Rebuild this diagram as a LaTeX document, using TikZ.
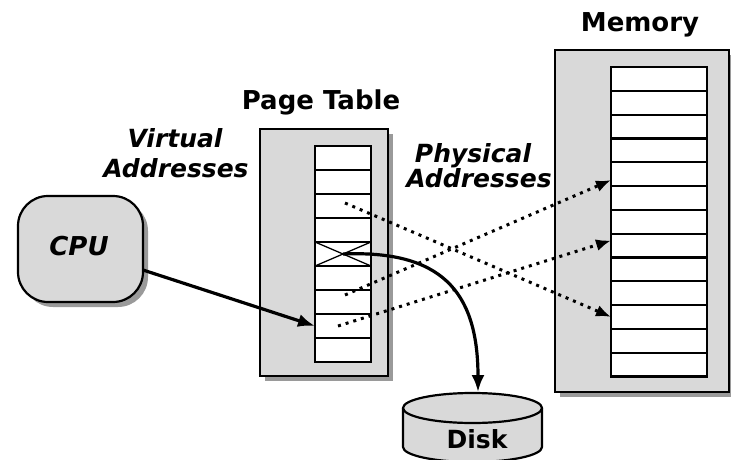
\documentclass[tikz,border=0pt]{standalone}
\usepackage{fontspec}
\setmainfont{DejaVu Sans}
\usetikzlibrary{arrows.meta,shadows}
\definecolor{boxgray}{HTML}{D9D9D9}
\definecolor{shadowgray}{HTML}{9A9A9A}

\begin{document}
\begin{tikzpicture}[x=1pt,y=-1pt,
  panel/.style={draw=black,line width=2.2pt,fill=boxgray,inner sep=0pt,outer sep=0pt,
    drop shadow={shadow xshift=5pt,shadow yshift=-5pt,fill=shadowgray,opacity=1}},
  slot/.style={draw=black,line width=2.2pt,fill=white,inner sep=0pt,outer sep=0pt},
  title/.style={font=\bfseries\fontsize{26}{28}\selectfont,anchor=base,inner sep=0pt},
  ititle/.style={font=\bfseries\itshape\fontsize{25}{27}\selectfont,anchor=base,inner sep=0pt},
  solidarrow/.style={line width=3.2pt,-{Latex[length=17pt,width=13pt]}},
  dotarrow/.style={line width=3pt,dash pattern=on 3pt off 5pt,-{Latex[length=15pt,width=12pt]}},
]
\useasboundingbox (0,0) rectangle (731,460);

% labels
\node[title] (memlabel) at (640,32) {Memory};
\node[title] (ptlabel) at (321,110) {Page Table};
\node[ititle] (virt1) at (175,147) {Virtual};
\node[ititle] (virt2) at (176,177) {Addresses};
\node[ititle] (phys1) at (473,162) {Physical};
\node[ititle] (phys2) at (479,187) {Addresses};

% CPU
\node[panel,rounded corners=30pt,minimum width=125pt,minimum height=106pt] (cpu) at (80.5,249) {};
\node[font=\bfseries\itshape\fontsize{26}{28}\selectfont,anchor=base,inner sep=0pt] (cputext) at (79,255) {CPU};

% page table
\node[panel,minimum width=128pt,minimum height=247pt] (pt) at (324,252.5) {};
\foreach \k in {1,...,9}
  \node[slot,minimum width=56pt,minimum height=24pt] (ptr\k) at (343,{134+24*\k}) {};
\draw[line width=1.3pt] (ptr5.north west) -- (ptr5.south east)
                        (ptr5.south west) -- (ptr5.north east);

% memory
\node[panel,minimum width=174pt,minimum height=342pt] (mem) at (642,221) {};
\foreach \k in {1,...,13}
  \node[slot,minimum width=96pt,minimum height=23.8pt] (memr\k) at (659,{67+23.8*(\k-0.5)}) {};

% disk
\fill[boxgray] (403,408) -- (403,447) arc[start angle=180,end angle=0,x radius=69.5,y radius=15] -- (542,408) -- cycle;
\draw[line width=2.2pt] (403,408) -- (403,447) arc[start angle=180,end angle=0,x radius=69.5,y radius=15] -- (542,408);
\filldraw[fill=boxgray,line width=2.2pt] (472.5,408) ellipse [x radius=69.5,y radius=15];
\coordinate (disktop) at (478,392);
\node[title,font=\bfseries\fontsize{25}{27}\selectfont] (disktext) at (477,448) {Disk};

% connectors
\draw[solidarrow] ([yshift=-21pt]cpu.east) -- (ptr8.west);
\draw[solidarrow] (ptr5.center) .. controls (440,250) and (478,290) .. (disktop);
\draw[dotarrow] ([xshift=2pt,yshift=3pt]ptr3.center) -- (memr11.west);
\draw[dotarrow] ([xshift=2pt,yshift=7pt]ptr7.center) -- ([yshift=-6pt]memr5.west);
\draw[dotarrow] ([xshift=-5pt]ptr8.center) -- ([yshift=5pt]memr8.west);
\end{tikzpicture}
\end{document}
